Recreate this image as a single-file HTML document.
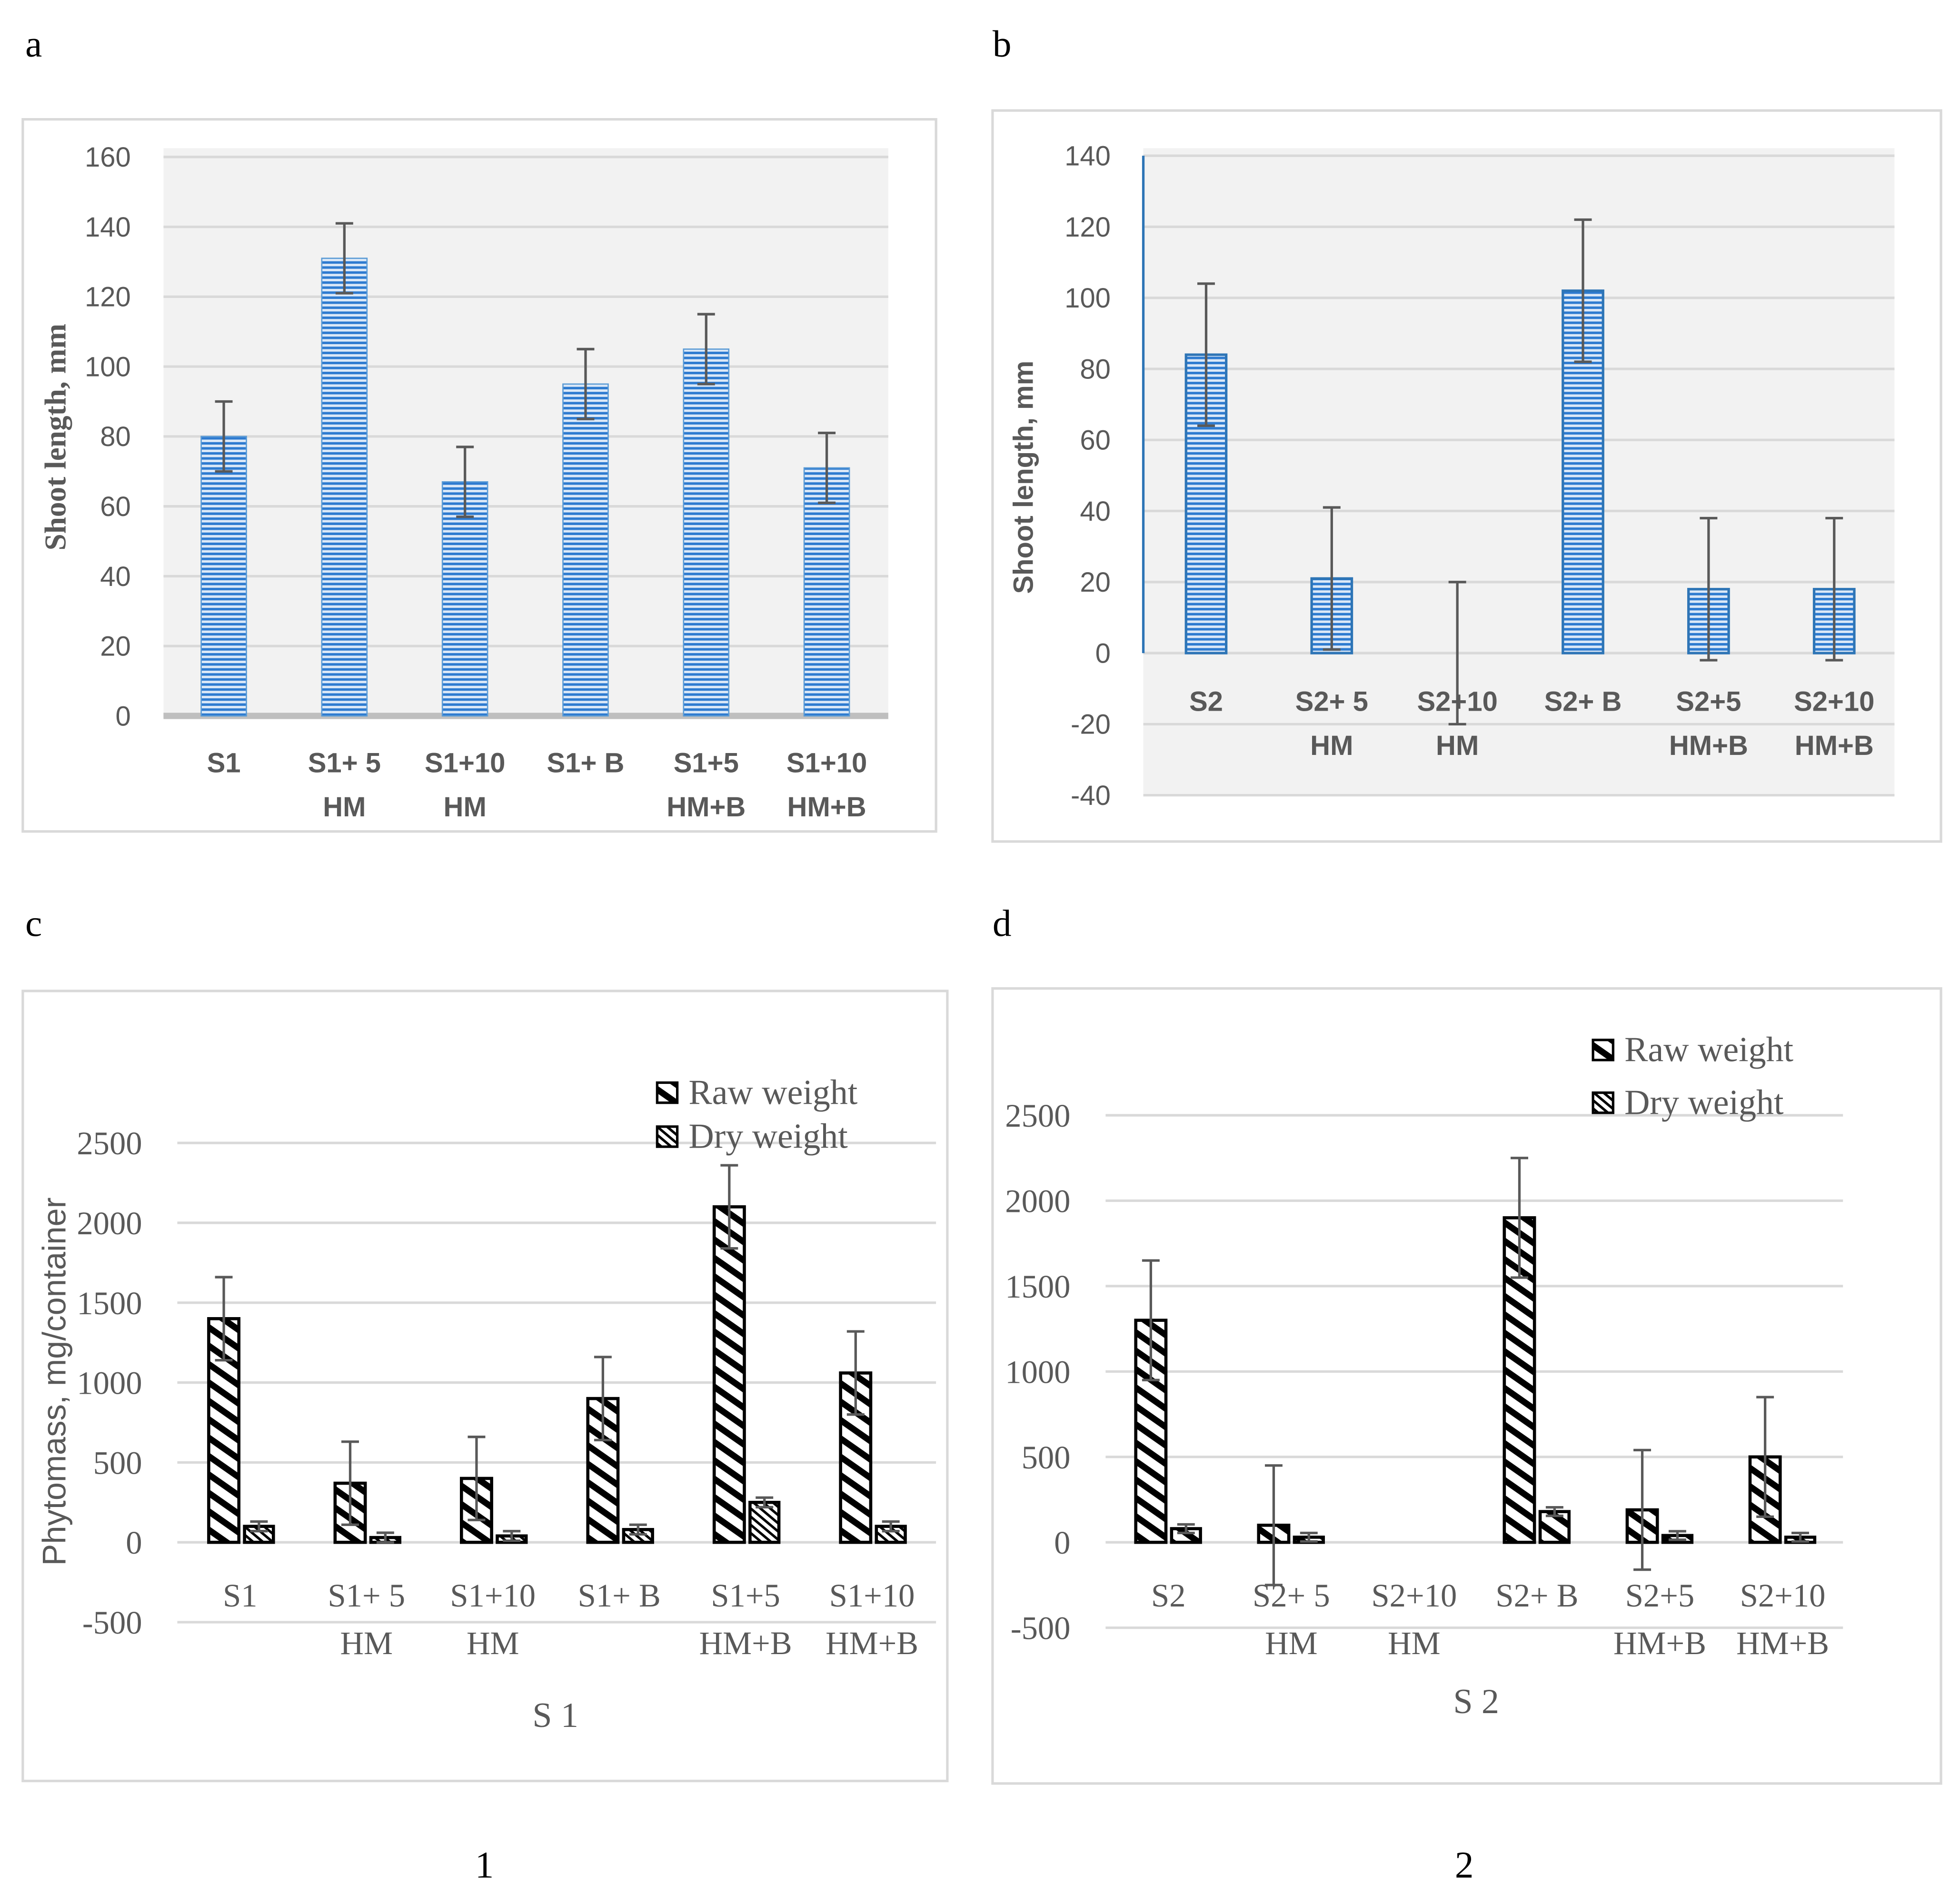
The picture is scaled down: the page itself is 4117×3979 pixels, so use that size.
<!DOCTYPE html>
<html><head><meta charset="utf-8"><style>
html,body{margin:0;padding:0;background:#fff}
svg{display:block}
</style></head><body>
<svg id="fig" width="4117" height="3979" viewBox="0 0 1560 1508" xmlns="http://www.w3.org/2000/svg">
<defs>
<pattern id="hblue" width="6" height="4" patternUnits="userSpaceOnUse"><rect width="6" height="4" fill="#dbe8f7"/><rect width="6" height="2" fill="#2e7bd0"/></pattern>
<pattern id="raw" width="12" height="12" patternUnits="userSpaceOnUse" patternTransform="rotate(35)"><rect width="12" height="12" fill="#fff"/><rect width="12" height="5" fill="#000"/></pattern>
<pattern id="dry" width="5" height="5" patternUnits="userSpaceOnUse" patternTransform="rotate(40)"><rect width="5" height="5" fill="#fff"/><rect width="5" height="2" fill="#000"/></pattern>
</defs>
<g id="root"></g>
</svg>
<script>
const catsA=["S1","S1+ 5|HM","S1+10|HM","S1+ B","S1+5|HM+B","S1+10|HM+B"];
const valsA=[80,131,67,95,105,71];
const errA=[10,10,10,10,10,10];
const ticksA=[0,20,40,60,80,100,120,140,160];
const catsB=["S2","S2+ 5|HM","S2+10|HM","S2+ B","S2+5|HM+B","S2+10|HM+B"];
const valsB=[84,21,0,102,18,18];
const errB=[20,20,20,20,20,20];
const ticksB=[-40,-20,0,20,40,60,80,100,120,140];
const catsC=["S1","S1+ 5|HM","S1+10|HM","S1+ B","S1+5|HM+B","S1+10|HM+B"];
const rawC=[1400,370,400,900,2100,1060];
const rawErrC=[260,260,260,260,260,260];
const dryC=[100,30,40,80,250,100];
const dryErrC=[30,30,30,30,30,30];
const ticksC=[-500,0,500,1000,1500,2000,2500];
const catsD=["S2","S2+ 5|HM","S2+10|HM","S2+ B","S2+5|HM+B","S2+10|HM+B"];
const rawD=[1300,100,0,1900,190,500];
const rawErrD=[350,350,0,350,350,350];
const dryD=[80,30,0,180,40,30];
const dryErrD=[25,25,0,25,25,25];
const ticksD=[-500,0,500,1000,1500,2000,2500];

const NS="http://www.w3.org/2000/svg";
const root=document.getElementById('root');
function el(tag,attrs,parent,txt){const e=document.createElementNS(NS,tag);for(const k in attrs)e.setAttribute(k,attrs[k]);if(txt!==undefined)e.textContent=txt;(parent||root).appendChild(e);return e;}
const SANS='"Liberation Sans", sans-serif', SERIF='"Liberation Serif", serif';

function panel(o){
  const g=el('g',{});
  
  
  const fr=el('rect',{x:o.box[0],y:o.box[1],width:o.box[2]-o.box[0],height:o.box[3]-o.box[1],fill:'#fff',stroke:'#d9d9d9','stroke-width':2},g);
  
  if(o.bg){const b=el('rect',{x:o.bg[0],y:o.bg[1],width:o.bg[2]-o.bg[0],height:o.bg[3]-o.bg[1],fill:'#f2f2f2'},g);}
  const y=v=>o.y0+(v-o.t0)*(o.y1-o.y0)/(o.t1-o.t0);
  o.ticks.forEach(t=>{
    if(t!==0||!o.zeroAxis){const l=el('line',{x1:o.gx[0],x2:o.gx[1],y1:y(t),y2:y(t),stroke:'#d9d9d9','stroke-width':2},g);}
    const tx=el('text',{x:o.tickX,y:y(t)+o.tfs*0.35,'text-anchor':'end','font-family':o.tfont,'font-size':o.tfs,fill:'#595959'},g,String(t));
    
  });
  if(o.zeroAxis){const l=el('line',{x1:o.gx[0],x2:o.gx[1],y1:y(0),y2:y(0),stroke:o.zeroAxis,'stroke-width':o.zeroW},g);}
  if(o.vAxis){const l=el('line',{x1:o.vAxis,x2:o.vAxis,y1:o.y1,y2:o.y0,stroke:'#2e75b6','stroke-width':2},g);}
  const xc=i=>o.cx0+i*o.step;
  o.series.forEach(s=>{
    s.vals.forEach((v,i)=>{
      const cx=xc(i)+s.off;
      const top=Math.min(y(v),y(0)),h=Math.abs(y(v)-y(0));
      if(h>0.5){const r=el('rect',{x:cx-s.w/2,y:top,width:s.w,height:h,fill:s.fill,stroke:s.stroke,'stroke-width':s.sw},g);}
      const e=s.err[i];
      if(e>0){
        const eg=el('g',{stroke:'#595959','stroke-width':2},g);
        
        el('line',{x1:cx,x2:cx,y1:y(v+e),y2:y(v-e)},eg);
        el('line',{x1:cx-7,x2:cx+7,y1:y(v+e),y2:y(v+e)},eg);
        el('line',{x1:cx-7,x2:cx+7,y1:y(v-e),y2:y(v-e)},eg);
      }
    });
  });
  o.cats.forEach((c,i)=>{
    c.split('|').forEach((p,j)=>{
      const t=el('text',{x:xc(i)+o.labOff,y:o.labY+j*o.labDy,'text-anchor':'middle','font-family':o.lfont,'font-size':o.lfs,'font-weight':o.lbold?'bold':'normal',fill:'#595959'},g,p);
      
    });
  });
  const yt=el('text',{x:0,y:0,transform:`translate(${o.yt[0]},${o.yt[1]}) rotate(-90)`,'text-anchor':'middle','font-family':o.ytfont,'font-size':o.ytfs,'font-weight':o.ytbold?'bold':'normal',fill:'#595959'},g,o.ytitle);
  
  if(o.xtitle){const t=el('text',{x:o.xtitle[1],y:o.xtitle[2],'text-anchor':'middle','font-family':SERIF,'font-size':28,fill:'#595959'},g,o.xtitle[0]);}
  if(o.legend){
    [['Raw weight','url(#raw)'],['Dry weight','url(#dry)']].forEach((L,j)=>{
      const lg=el('g',{},g);
      const ly=o.legend[1]+j*o.legend[2];
      el('rect',{x:o.legend[0],y:ly-8,width:16,height:16,fill:L[1],stroke:'#000','stroke-width':2},lg);
      el('text',{x:o.legend[0]+25,y:ly+9,'font-family':SERIF,'font-size':28,fill:'#595959'},lg,L[0]);
    });
  }
}

panel({name:'chart-a',box:[18,95,745,662],bg:[130,118,707,572],gx:[130,707],y0:570,y1:125,t0:0,t1:160,ticks:ticksA,tickX:104,tfont:SANS,tfs:22,
 zeroAxis:'#bfbfbf',zeroW:5,cx0:178,step:96,cats:catsA,labOff:0,labY:615,labDy:35,lfont:SANS,lfs:22,lbold:true,
 series:[{key:'shoot-length',vals:valsA,err:errA,off:0,w:36,fill:'url(#hblue)',stroke:'#5b9bd5',sw:1}],
 yt:[52,348],ytitle:'Shoot length, mm',ytfont:SERIF,ytfs:24,ytbold:true});
panel({name:'chart-b',box:[790,88,1545,670],bg:[910,118,1508,633],gx:[910,1508],y0:520,y1:124,t0:0,t1:140,ticks:ticksB,tickX:884,tfont:SANS,tfs:22,
 zeroAxis:'#d9d9d9',zeroW:2,vAxis:910,cx0:960,step:100,cats:catsB,labOff:0,labY:566,labDy:35,lfont:SANS,lfs:22,lbold:true,
 series:[{key:'shoot-length',vals:valsB,err:errB,off:0,w:32,fill:'url(#hblue)',stroke:'#2e75b6',sw:2}],
 yt:[822,380],ytitle:'Shoot length, mm',ytfont:SANS,ytfs:22,ytbold:true});
panel({name:'chart-c',box:[18,789,754,1418],gx:[141,745],y0:1228,y1:910,t0:0,t1:2500,ticks:ticksC,tickX:113,tfont:SERIF,tfs:26,
 cx0:191,step:100.6,cats:catsC,labOff:0,labY:1279,labDy:38,lfont:SERIF,lfs:26,
 series:[{key:'raw-weight',vals:rawC,err:rawErrC,off:-13,w:24,fill:'url(#raw)',stroke:'#000',sw:2.5},{key:'dry-weight',vals:dryC,err:dryErrC,off:15,w:23,fill:'url(#dry)',stroke:'#000',sw:2.5}],
 yt:[52,1100],ytitle:'Phytomass, mg/container',ytfont:SANS,ytfs:26,xtitle:['S 1',442,1375],legend:[523,870,35]});
panel({name:'chart-d',box:[790,787,1545,1420],gx:[880,1467],y0:1228,y1:888,t0:0,t1:2500,ticks:ticksD,tickX:852,tfont:SERIF,tfs:26,
 cx0:930,step:97.8,cats:catsD,labOff:0,labY:1279,labDy:38,lfont:SERIF,lfs:26,
 series:[{key:'raw-weight',vals:rawD,err:rawErrD,off:-14,w:24,fill:'url(#raw)',stroke:'#000',sw:2.5},{key:'dry-weight',vals:dryD,err:dryErrD,off:14,w:23,fill:'url(#raw)',stroke:'#000',sw:2.5}],
 yt:[0,0],ytitle:'',ytfont:SANS,ytfs:26,xtitle:['S 2',1175,1364],legend:[1268,836,42]});

[['a',20,45],['b',790,45],['c',20,745],['d',790,745],['1',378,1495],['2',1158,1495]].forEach(L=>{
  const t=el('text',{x:L[1],y:L[2],'font-family':SERIF,'font-size':30,fill:'#000'},root,L[0]);
  
  
});
</script>
</body></html>
